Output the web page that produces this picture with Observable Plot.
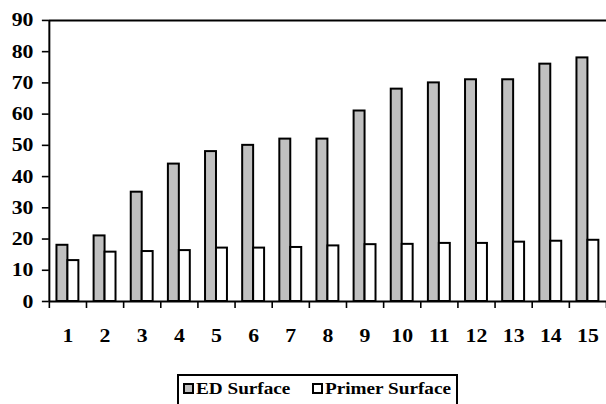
<!DOCTYPE html>
<html><head><meta charset="utf-8">
<script src="https://cdn.jsdelivr.net/npm/d3@7"></script>
<script src="https://cdn.jsdelivr.net/npm/@observablehq/plot@0.6"></script>
<style>
html,body{margin:0;padding:0;background:#fff;overflow:hidden;width:606px;height:404px}
#chart{position:absolute;left:0;top:0}
#chart svg text{font-family:"Liberation Serif","Times New Roman",Times,serif !important;font-weight:700 !important;font-variant:normal !important;fill:#000}
#legend{position:absolute;left:177px;top:374px;width:281px;height:40px;border:2px solid #000;box-sizing:border-box;font-family:"Liberation Serif","Times New Roman",Times,serif;font-weight:700;font-size:16px;color:#000}
.item{position:absolute;top:7px;display:flex;align-items:center;height:11px}
.sw{width:11px;height:11px;border:2px solid #000;box-sizing:border-box;flex:none}
.lab{transform:scaleX(1.2);transform-origin:left center;margin-left:2px;line-height:16px;white-space:nowrap}
#chart svg g[aria-label="y-axis tick"] path,#chart svg g[aria-label="y-axis"] line{stroke-width:1.6}
</style></head><body>
<div id="chart"></div>
<div id="legend"></div>
<script>
const categories = [1, 2, 3, 4, 5, 6, 7, 8, 9, 10, 11, 12, 13, 14, 15];
const edSurface = [18, 21, 35, 44, 48, 50, 52, 52, 61, 68, 70, 71, 71, 76, 78];
const primerSurface = [13.1, 15.8, 16.0, 16.3, 17.1, 17.1, 17.3, 17.8, 18.2, 18.3, 18.6, 18.6, 19.0, 19.3, 19.6];
const yTicks = [0, 10, 20, 30, 40, 50, 60, 70, 80, 90];
const seriesNames = ["ED Surface", "Primer Surface"];
const seriesColors = ["#c0c0c0", "#ffffff"];

const rows = categories.flatMap((c, i) => [
  {cat: c, series: seriesNames[0], value: edSurface[i]},
  {cat: c, series: seriesNames[1], value: primerSurface[i]}
]);
const barW = 0.295;
const boundaries = categories.map(c => c - 0.5).concat([categories[categories.length - 1] + 0.5]);

const plot = Plot.plot({
  width: 608, height: 362,
  marginLeft: 49, marginRight: 0, marginTop: 20, marginBottom: 60,
  style: {fontFamily: "'Liberation Serif', 'Times New Roman', serif", fontSize: "19px", fontWeight: "bold", color: "#000", background: "#fff", overflow: "visible"},
  x: {domain: [0.5, 15.5], ticks: categories, tickSize: 0, tickPadding: 27, tickFormat: d => String(d), label: null},
  y: {domain: [0, 90], ticks: yTicks, tickSize: 7, tickPadding: 9, tickFormat: d => String(d), label: null},
  color: {domain: seriesNames, range: seriesColors},
  marks: [
    Plot.rectY(rows, {
      x1: d => d.series === seriesNames[0] ? d.cat - barW : d.cat,
      x2: d => d.series === seriesNames[0] ? d.cat : d.cat + barW,
      y1: 0, y2: "value", fill: "series", stroke: "#000", strokeWidth: 2
    }),
    Plot.ruleY([0], {stroke: "#000", strokeWidth: 2}),
    Plot.ruleY([90], {stroke: "#000", strokeWidth: 2}),
    Plot.ruleX([0.5], {y1: 0, y2: 90, stroke: "#000", strokeWidth: 2}),
    Plot.ruleX(boundaries, {y1: 0, y2: 0, insetTop: 7, stroke: "#000", strokeWidth: 1.6})
  ]
});
document.getElementById("chart").appendChild(plot);

// horizontally stretch the text a little, like the reference's wide serif glyphs
plot.querySelectorAll("text").forEach(t => {
  const xa = t.getAttribute("x");
  let tr = t.getAttribute("transform") || "";
  if (xa !== null && !isNaN(+xa)) { tr += ` translate(${+xa},0)`; t.setAttribute("x", 0); }
  t.setAttribute("transform", tr + " scale(1.15,1)");
});

const legend = document.getElementById("legend");
const lefts = [4, 133];
seriesNames.forEach((name, i) => {
  const item = document.createElement("div");
  item.className = "item";
  item.style.left = lefts[i] + "px";
  const sw = document.createElement("div");
  sw.className = "sw";
  sw.style.background = seriesColors[i];
  const lab = document.createElement("span");
  lab.className = "lab";
  lab.textContent = name;
  item.appendChild(sw); item.appendChild(lab);
  legend.appendChild(item);
});
</script>
</body></html>
